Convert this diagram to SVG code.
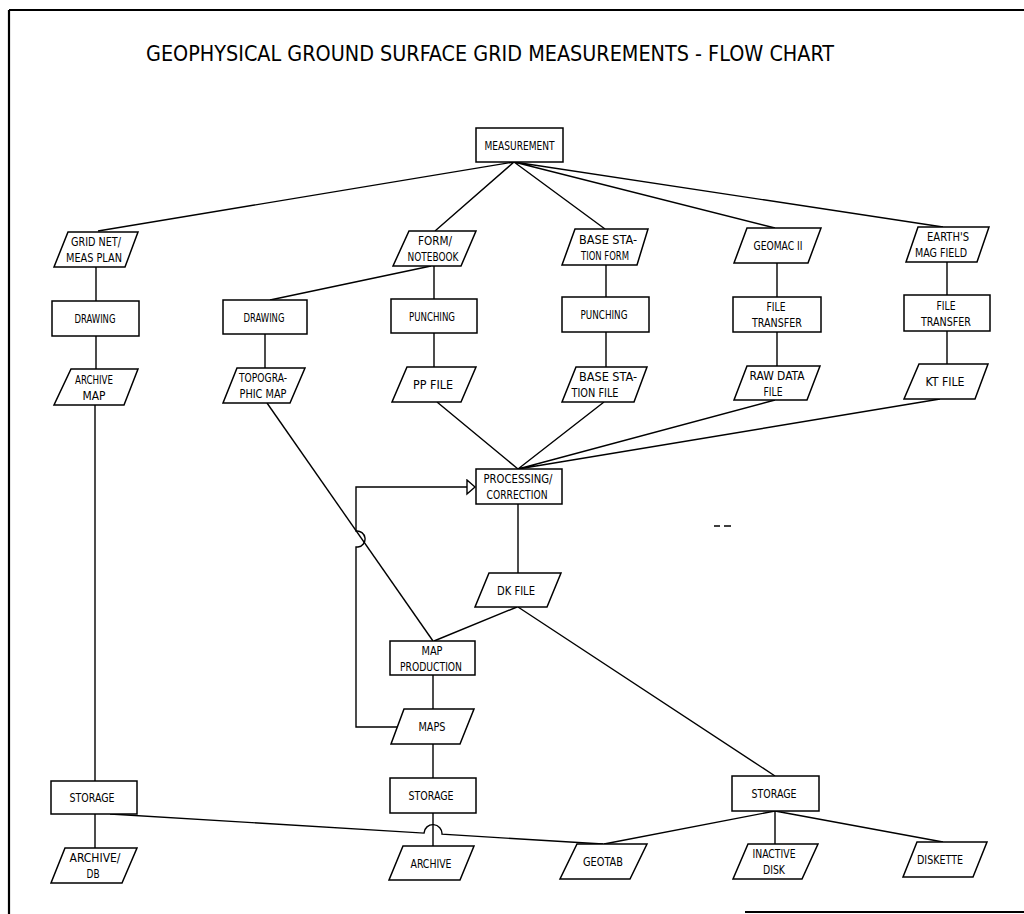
<svg xmlns="http://www.w3.org/2000/svg" width="1024" height="914" viewBox="0 0 1024 914">
<style>
.s{fill:#fff;stroke:#000;stroke-width:1.5}
.c{fill:none;stroke:#000;stroke-width:1.4}
.b{fill:none;stroke:#000;stroke-width:2.2}
text{font-family:"DejaVu Sans Condensed","Liberation Sans Narrow","Liberation Sans",sans-serif;font-size:13px;text-anchor:middle;fill:#000}
.t{font-size:22px}
</style>
<defs>
<marker id="arr" markerUnits="userSpaceOnUse" markerWidth="12" markerHeight="18" refX="9" refY="8" orient="auto">
<path d="M1,1 L9,8 L1,15 Z" fill="#fff" stroke="#000" stroke-width="1.4"/>
</marker>
</defs>
<rect width="1024" height="914" fill="#fff"/>
<g id="frame">
<path class="b" d="M9,10 H1024 M9,10 V914 M745,912 H1024"/>
<path class="c" d="M714,526 H720 M724,526 H731"/>
</g>
<text class="t" x="490" y="61" textLength="688" lengthAdjust="spacingAndGlyphs">GEOPHYSICAL GROUND SURFACE GRID MEASUREMENTS - FLOW CHART</text>
<g id="connectors">
<path class="c" d="M514,162 L98,231 M514,162 L435,231 M514,162 L605,229 M514,162 L775,228 M514,162 L943,227"/>
<path class="c" d="M96,267 V301 M96,336 V369 M95,405 V781 M95,814 V848"/>
<path class="c" d="M431,266 L270,300 M434,266 V299 M265,334 V368 M434,333 V367"/>
<path class="c" d="M606,265 V297 M606,332 V367 M777,263 V297 M777,332 V366 M947,262 V295 M947,330 V364"/>
<path class="c" d="M437,402 L518,469 M604,402 L518,469 M775,400 L518,469 M940,399 L518,469"/>
<path class="c" d="M267,403 L433,641"/>
<path class="c" d="M518,504 V573 M517,607 L434,641 M518,607 L775,776"/>
<path class="c" d="M433,675 V709 M433,744 V778 M433,813 V846"/>
<path class="c" d="M398,727 H356 V547 H358 A8,8 0 0 0 356,531 V487 H475" marker-end="url(#arr)"/>
<path class="c" d="M110,814 L424,833.1 A9,9 0 0 1 442,834.2 L603,844"/>
<path class="c" d="M775,811 L604,844 M775,811 V844 M775,811 L943,842"/>
</g>
<g id="measurement"><rect class="s" x="476" y="128" width="87" height="34"/><text x="519.5" y="149.7" textLength="70" lengthAdjust="spacingAndGlyphs">MEASUREMENT</text></g>
<g id="gridnet"><polygon class="s" points="68,232 138,232 125,267 54,267"/><text x="96" y="246.2" textLength="50" lengthAdjust="spacingAndGlyphs">GRID NET/</text><text x="94" y="262.2" textLength="56" lengthAdjust="spacingAndGlyphs">MEAS PLAN</text></g>
<g id="form"><polygon class="s" points="409,231 476,231 461,266 393,266"/><text x="435" y="245.2" textLength="34" lengthAdjust="spacingAndGlyphs">FORM/</text><text x="433" y="261.2" textLength="51" lengthAdjust="spacingAndGlyphs">NOTEBOOK</text></g>
<g id="basestationform"><polygon class="s" points="575,229 648,229 637,265 562,265"/><text x="608" y="243.7" textLength="58" lengthAdjust="spacingAndGlyphs">BASE STA-</text><text x="605" y="259.7" textLength="48" lengthAdjust="spacingAndGlyphs">TION FORM</text></g>
<g id="geomac"><polygon class="s" points="747,228 821,228 808,263 734,263"/><text x="778" y="250.2" textLength="49" lengthAdjust="spacingAndGlyphs">GEOMAC II</text></g>
<g id="earth"><polygon class="s" points="918,227 989,227 977,262 906,262"/><text x="948" y="241.2" textLength="42" lengthAdjust="spacingAndGlyphs">EARTH'S</text><text x="941" y="257.2" textLength="52" lengthAdjust="spacingAndGlyphs">MAG FIELD</text></g>
<g id="drawing1"><rect class="s" x="52" y="301" width="87" height="35"/><text x="95" y="323.2" textLength="41" lengthAdjust="spacingAndGlyphs">DRAWING</text></g>
<g id="drawing2"><rect class="s" x="223" y="300" width="84" height="34"/><text x="264" y="321.7" textLength="41" lengthAdjust="spacingAndGlyphs">DRAWING</text></g>
<g id="punching1"><rect class="s" x="391" y="299" width="86" height="34"/><text x="432" y="320.7" textLength="46" lengthAdjust="spacingAndGlyphs">PUNCHING</text></g>
<g id="punching2"><rect class="s" x="562" y="297" width="87" height="35"/><text x="604" y="319.2" textLength="47" lengthAdjust="spacingAndGlyphs">PUNCHING</text></g>
<g id="filetransfer1"><rect class="s" x="733" y="297" width="88" height="35"/><text x="776" y="311.2" textLength="19" lengthAdjust="spacingAndGlyphs">FILE</text><text x="777" y="327.2" textLength="50" lengthAdjust="spacingAndGlyphs">TRANSFER</text></g>
<g id="filetransfer2"><rect class="s" x="904" y="295" width="86" height="36"/><text x="946" y="309.7" textLength="19" lengthAdjust="spacingAndGlyphs">FILE</text><text x="946" y="325.7" textLength="50" lengthAdjust="spacingAndGlyphs">TRANSFER</text></g>
<g id="archivemap"><polygon class="s" points="71,369 138,369 124,405 54,405"/><text x="94" y="383.7" textLength="38" lengthAdjust="spacingAndGlyphs">ARCHIVE</text><text x="94" y="399.7" textLength="23" lengthAdjust="spacingAndGlyphs">MAP</text></g>
<g id="topomap"><polygon class="s" points="237,368 305,368 290,403 223,403"/><text x="263" y="382.2" textLength="48" lengthAdjust="spacingAndGlyphs">TOPOGRA-</text><text x="263" y="398.2" textLength="47" lengthAdjust="spacingAndGlyphs">PHIC MAP</text></g>
<g id="ppfile"><polygon class="s" points="407,367 476,367 461,402 392,402"/><text x="433" y="389.2" textLength="40" lengthAdjust="spacingAndGlyphs">PP FILE</text></g>
<g id="basestationfile"><polygon class="s" points="576,367 647,367 634,402 562,402"/><text x="608" y="381.2" textLength="58" lengthAdjust="spacingAndGlyphs">BASE STA-</text><text x="595" y="397.2" textLength="47" lengthAdjust="spacingAndGlyphs">TION FILE</text></g>
<g id="rawdata"><polygon class="s" points="747,366 820,366 807,400 734,400"/><text x="777" y="379.7" textLength="55" lengthAdjust="spacingAndGlyphs">RAW DATA</text><text x="773" y="395.7" textLength="19" lengthAdjust="spacingAndGlyphs">FILE</text></g>
<g id="ktfile"><polygon class="s" points="919,364 988,364 975,399 904,399"/><text x="945" y="386.2" textLength="39" lengthAdjust="spacingAndGlyphs">KT FILE</text></g>
<g id="processing"><rect class="s" x="476" y="469" width="86" height="35"/><text x="518" y="483.2" textLength="69" lengthAdjust="spacingAndGlyphs">PROCESSING/</text><text x="517" y="499.2" textLength="61" lengthAdjust="spacingAndGlyphs">CORRECTION</text></g>
<g id="dkfile"><polygon class="s" points="489,573 561,573 547,607 475,607"/><text x="516" y="594.7" textLength="38" lengthAdjust="spacingAndGlyphs">DK FILE</text></g>
<g id="mapproduction"><rect class="s" x="390" y="641" width="85" height="34"/><text x="432" y="654.7" textLength="21" lengthAdjust="spacingAndGlyphs">MAP</text><text x="431" y="670.7" textLength="62" lengthAdjust="spacingAndGlyphs">PRODUCTION</text></g>
<g id="maps"><polygon class="s" points="404,709 474,709 460,744 391,744"/><text x="432" y="731.2" textLength="27" lengthAdjust="spacingAndGlyphs">MAPS</text></g>
<g id="storage1"><rect class="s" x="51" y="781" width="86" height="33"/><text x="92" y="802.2" textLength="45" lengthAdjust="spacingAndGlyphs">STORAGE</text></g>
<g id="storage2"><rect class="s" x="390" y="778" width="86" height="35"/><text x="431" y="800.2" textLength="45" lengthAdjust="spacingAndGlyphs">STORAGE</text></g>
<g id="storage3"><rect class="s" x="732" y="776" width="87" height="35"/><text x="774" y="798.2" textLength="45" lengthAdjust="spacingAndGlyphs">STORAGE</text></g>
<g id="archivedb"><polygon class="s" points="65,848 137,848 122,883 51,883"/><text x="95" y="862.2" textLength="51" lengthAdjust="spacingAndGlyphs">ARCHIVE/</text><text x="93" y="878.2" textLength="13" lengthAdjust="spacingAndGlyphs">DB</text></g>
<g id="archive"><polygon class="s" points="403,846 474,846 460,880 389,880"/><text x="431" y="867.7" textLength="41" lengthAdjust="spacingAndGlyphs">ARCHIVE</text></g>
<g id="geotab"><polygon class="s" points="577,844 647,844 630,879 560,879"/><text x="603" y="866.2" textLength="40" lengthAdjust="spacingAndGlyphs">GEOTAB</text></g>
<g id="inactivedisk"><polygon class="s" points="748,844 818,844 802,879 733,879"/><text x="774" y="858.2" textLength="43" lengthAdjust="spacingAndGlyphs">INACTIVE</text><text x="774" y="874.2" textLength="22" lengthAdjust="spacingAndGlyphs">DISK</text></g>
<g id="diskette"><polygon class="s" points="917,842 987,842 973,877 903,877"/><text x="940" y="864.2" textLength="46" lengthAdjust="spacingAndGlyphs">DISKETTE</text></g>
</svg>
